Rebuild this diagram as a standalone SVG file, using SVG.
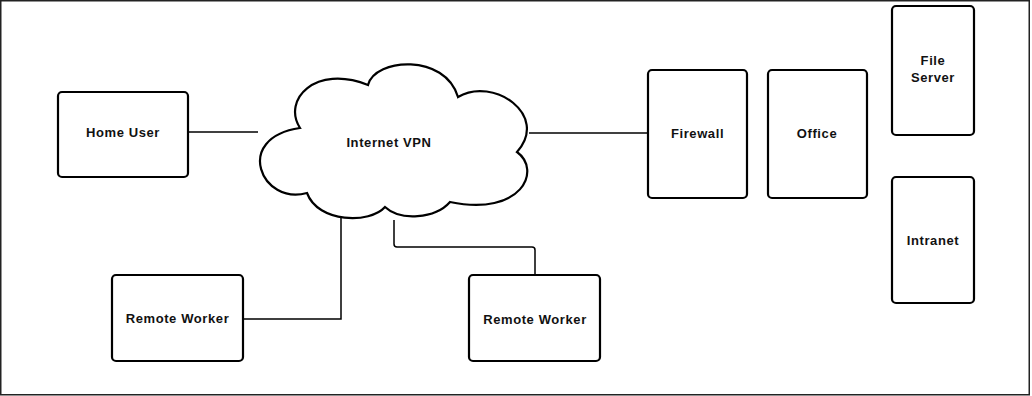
<svg xmlns="http://www.w3.org/2000/svg" width="1032" height="396" viewBox="0 0 1032 396">
  <style>
    .node { fill: #ffffff; stroke: #000000; stroke-width: 2.2; }
    .label { font-family: "Liberation Sans", Arial, sans-serif; font-size: 13px; font-weight: bold; fill: #111111; text-anchor: middle; dominant-baseline: central; letter-spacing: 0.6px; }
    .wire { fill: none; stroke: #000000; stroke-width: 1.5; }
  </style>
  <rect x="0" y="0" width="1032" height="396" fill="#ffffff"/>
  <!-- outer frame -->
  <rect x="0.75" y="0.75" width="1028.5" height="394" fill="none" stroke="#222222" stroke-width="1.5"/>

  <g id="connectors">
    <path class="wire" d="M188,132 H258"/>
    <path class="wire" d="M529,133 H648"/>
    <path class="wire" d="M341,217 V319 H243" stroke-width="1.2"/>
    <path class="wire" d="M394,220 V244 Q394,247 397,247 H532 Q535,247 535,250 V275"/>
  </g>

  <g id="cloud">
    <path class="node" d="M300,128 C282,100 315,64 368,85 C375,58 445,53 458,97 C493,76 550,115 517,152 C542,170 522,217 450,202 C435,219 400,221 385,207 C370,224 318,223 307,193 C262,206 232,138 300,128 Z"/>
    <text class="label" x="389" y="142">Internet VPN</text>
  </g>

  <g id="home-user">
    <rect class="node" x="58" y="92" width="130" height="85" rx="4"/>
    <text class="label" x="123" y="132">Home User</text>
  </g>

  <g id="firewall">
    <rect class="node" x="648" y="70" width="99" height="128" rx="4"/>
    <text class="label" x="697.5" y="133">Firewall</text>
  </g>

  <g id="office">
    <rect class="node" x="768" y="70" width="99" height="128" rx="4"/>
    <text class="label" x="817" y="133">Office</text>
  </g>

  <g id="file-server">
    <rect class="node" x="892" y="6" width="82" height="129" rx="4"/>
    <text class="label" x="933" y="60">File</text>
    <text class="label" x="933" y="77.5">Server</text>
  </g>

  <g id="intranet">
    <rect class="node" x="892" y="177" width="82" height="126" rx="4"/>
    <text class="label" x="933" y="240">Intranet</text>
  </g>

  <g id="remote-worker-1">
    <rect class="node" x="112" y="275" width="131" height="86" rx="4"/>
    <text class="label" x="177.5" y="318">Remote Worker</text>
  </g>

  <g id="remote-worker-2">
    <rect class="node" x="469" y="275" width="131" height="86" rx="4"/>
    <text class="label" x="535" y="319">Remote Worker</text>
  </g>
</svg>
